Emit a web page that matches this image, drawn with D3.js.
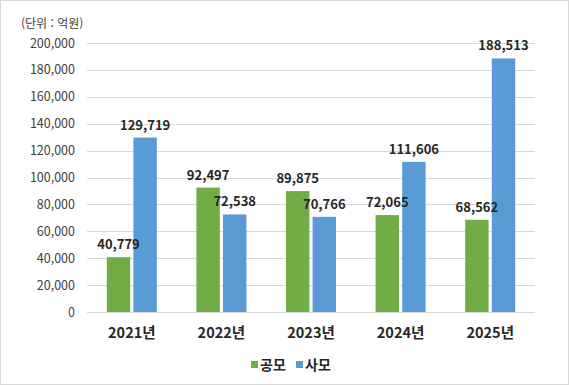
<!DOCTYPE html>
<html lang="ko">
<head>
<meta charset="UTF-8">
<script src="https://cdn.jsdelivr.net/npm/d3@7"></script>
<style>
  body { margin: 0; background: #fff; }
  text { font-family: "Noto Sans CJK KR", "Noto Sans", sans-serif; }
</style>
</head>
<body>
<svg id="chart" width="569" height="385"></svg>
<script>
  // data
  const years = ["2021년", "2022년", "2023년", "2024년", "2025년"];
  const seriesNames = ["공모", "사모"];
  const gongmo = [40779, 92497, 89875, 72065, 68562];
  const samo = [129719, 72538, 70766, 111606, 188513];
  const yTicks = [0, 20000, 40000, 60000, 80000, 100000, 120000, 140000, 160000, 180000, 200000];
  const colors = ["#70ad47", "#5b9bd5"];

  const svg = d3.select("#chart");

  // outer frame
  svg.append("rect")
    .attr("x", 0.5).attr("y", 0.5)
    .attr("width", 568).attr("height", 384)
    .attr("fill", "#fff").attr("stroke", "#d9d9d9");

  const plotLeft = 87, plotRight = 535, plotTop = 43, plotBottom = 312;

  const x = d3.scaleBand().domain(years).range([plotLeft, plotRight]);
  const y = d3.scaleLinear().domain([0, 200000]).range([plotBottom, plotTop]);
  const inner = d3.scaleBand().domain(seriesNames).range([-25, 25]).paddingInner(0.12);

  // gridlines
  svg.append("g").selectAll("line")
    .data(yTicks)
    .join("line")
    .attr("x1", plotLeft).attr("x2", plotRight)
    .attr("y1", d => Math.round(y(d)) + 0.5).attr("y2", d => Math.round(y(d)) + 0.5)
    .attr("stroke", "#d9d9d9");

  // y axis labels
  const fmt = d3.format(",");
  const yAxis = d3.axisLeft(y).tickValues(yTicks).tickFormat(fmt).tickSize(0).tickPadding(12);
  svg.append("g")
    .attr("transform", `translate(${plotLeft},0)`)
    .call(yAxis)
    .call(g => g.select(".domain").remove())
    .selectAll("text")
    .attr("font-size", 12.5)
    .attr("fill", "#404040")
    .style("font-family", '"Noto Sans CJK KR", sans-serif');

  // unit label
  svg.append("text")
    .attr("x", 21).attr("y", 28)
    .attr("font-size", 12)
    .attr("fill", "#404040")
    .text("(단위 : 억원)");

  // bars
  const rows = years.map((yr, i) => ({ year: yr, values: [gongmo[i], samo[i]] }));

  const groups = svg.append("g").selectAll("g")
    .data(rows)
    .join("g")
    .attr("transform", d => `translate(${x(d.year) + x.bandwidth() / 2},0)`);

  groups.selectAll("rect")
    .data(d => d.values.map((v, k) => ({ name: seriesNames[k], value: v, k })))
    .join("rect")
    .attr("x", d => inner(d.name))
    .attr("y", d => y(d.value))
    .attr("width", inner.bandwidth())
    .attr("height", d => plotBottom - y(d.value))
    .attr("fill", d => colors[d.k]);

  groups.selectAll("text.val")
    .data(d => d.values.map((v, k) => ({ name: seriesNames[k], value: v, k })))
    .join("text")
    .attr("class", "val")
    .attr("x", d => inner(d.name) + inner.bandwidth() / 2)
    .attr("y", d => y(d.value) - 8)
    .attr("text-anchor", "middle")
    .attr("font-size", 13)
    .attr("font-weight", "bold")
    .attr("fill", "#262626")
    .text(d => fmt(d.value));

  // category labels
  svg.append("g").selectAll("text")
    .data(years)
    .join("text")
    .attr("x", d => x(d) + x.bandwidth() / 2)
    .attr("y", 338)
    .attr("text-anchor", "middle")
    .attr("font-size", 14.5)
    .attr("font-weight", "bold")
    .attr("fill", "#262626")
    .text(d => d);

  // legend
  const legend = svg.append("g").selectAll("g")
    .data(seriesNames)
    .join("g")
    .attr("transform", (d, i) => `translate(${251 + i * 45},0)`);
  legend.append("rect")
    .attr("x", 0).attr("y", 361)
    .attr("width", 7).attr("height", 7)
    .attr("fill", (d, i) => colors[i]);
  legend.append("text")
    .attr("x", 9).attr("y", 370)
    .attr("font-size", 14)
    .attr("font-weight", "bold")
    .attr("fill", "#262626")
    .text(d => d);
</script>
</body>
</html>
